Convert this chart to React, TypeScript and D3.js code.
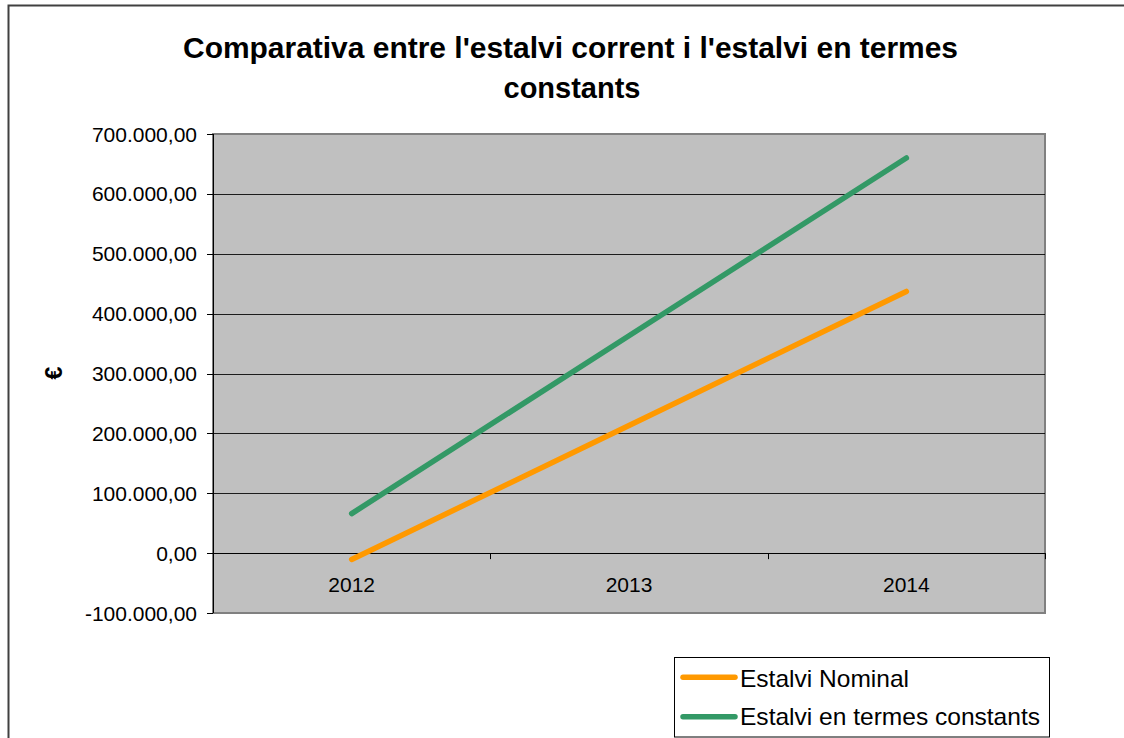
import React from "react";
import * as d3 from "d3";

const years = ["2012", "2013", "2014"];
const nominal = [-10500, 213000, 437000];
const constants = [66000, 363000, 660000];
const yTicks = [-100000, 0, 100000, 200000, 300000, 400000, 500000, 600000, 700000];
const seriesNames = ["Estalvi Nominal", "Estalvi en termes constants"];
const seriesColors = ["#FF9900", "#339966"];
const titleLines = ["Comparativa entre l'estalvi corrent i l'estalvi en termes", "constants"];
const yLabel = "€";

const W = 1124;
const H = 738;
const FONT = "'Liberation Sans', Arial, sans-serif";

const locale = d3.formatLocale({ decimal: ",", thousands: ".", grouping: [3], currency: ["", "€"], minus: "-" });
const fmt = locale.format(",.2f");

export default function App() {
  const left = 213, right = 1045, top = 134, bottom = 613;
  const x = d3.scaleBand<string>().domain(years).range([left, right]).paddingInner(0).paddingOuter(0);
  const y = d3.scaleLinear().domain([-100000, 700000]).range([bottom, top]);
  const cx = (d: string) => (x(d) as number) + x.bandwidth() / 2;
  const line = d3
    .line<number>()
    .x((_, i) => cx(years[i]))
    .y((v) => y(v));
  const series = [nominal, constants];
  const y0 = y(0);
  const boundaries = years.map((d) => x(d) as number).concat([right]);

  return (
    <svg
      width={W}
      height={H}
      style={{ position: "absolute", left: 0, top: 0, background: "#fff" }}
      fontFamily={FONT}
    >
      <rect x={8.5} y={5.5} width={W + 20} height={H + 20} fill="#fff" stroke="#404040" strokeWidth={2} />
      <text x={570.5} y={57.7} textAnchor="middle" fontSize={29} fontWeight="bold" textLength={775} lengthAdjust="spacingAndGlyphs">
        {titleLines[0]}
      </text>
      <text x={572} y={97.7} textAnchor="middle" fontSize={29} fontWeight="bold" textLength={137} lengthAdjust="spacingAndGlyphs">
        {titleLines[1]}
      </text>

      <rect x={left} y={top} width={right - left} height={bottom - top} fill="#C0C0C0" stroke="#808080" strokeWidth={2} />
      {yTicks.slice(1, -1).map((t) => (
        <line key={t} x1={left} x2={right} y1={Math.round(y(t)) + 0.5} y2={Math.round(y(t)) + 0.5} stroke="#000" strokeWidth={1} opacity={t === 0 ? 1 : 0.85} />
      ))}
      <line x1={left + 0.5} x2={left + 0.5} y1={top} y2={bottom} stroke="#000" strokeWidth={1} />
      {yTicks.map((t) => (
        <g key={"yt" + t}>
          <line x1={207} x2={left} y1={Math.round(y(t)) + 0.5} y2={Math.round(y(t)) + 0.5} stroke="#000" />
          <text x={197} y={y(t) + 7.5} textAnchor="end" fontSize={21} fill="#000">
            {fmt(t)}
          </text>
        </g>
      ))}
      {boundaries.map((b, i) => (
        <line key={"xt" + i} x1={Math.round(b) + 0.5} x2={Math.round(b) + 0.5} y1={y0} y2={y0 + 6} stroke="#000" />
      ))}
      {years.map((d) => (
        <text key={d} x={cx(d)} y={592} textAnchor="middle" fontSize={21} fill="#000">
          {d}
        </text>
      ))}
      <text
        transform={`translate(62,373) rotate(-90)`}
        textAnchor="middle"
        fontSize={23}
        fontWeight="bold"
      >
        {yLabel}
      </text>

      {series.map((s, i) => (
        <path key={i} d={line(s) || ""} fill="none" stroke={seriesColors[i]} strokeWidth={5.5} strokeLinecap="round" strokeLinejoin="round" />
      ))}

      <rect x={674.5} y={657.5} width={375} height={79.5} fill="#fff" stroke="#000" strokeWidth={1} />
      {seriesNames.map((n, i) => {
        const ly = [677.3, 716.7][i];
        return (
          <g key={n}>
            <line x1={683} x2={735} y1={ly} y2={ly} stroke={seriesColors[i]} strokeWidth={5.5} strokeLinecap="round" />
            <text x={740} y={[686.7, 725][i]} fontSize={24} fill="#000" textLength={[169, 300][i]} lengthAdjust="spacingAndGlyphs">
              {n}
            </text>
          </g>
        );
      })}
    </svg>
  );
}
